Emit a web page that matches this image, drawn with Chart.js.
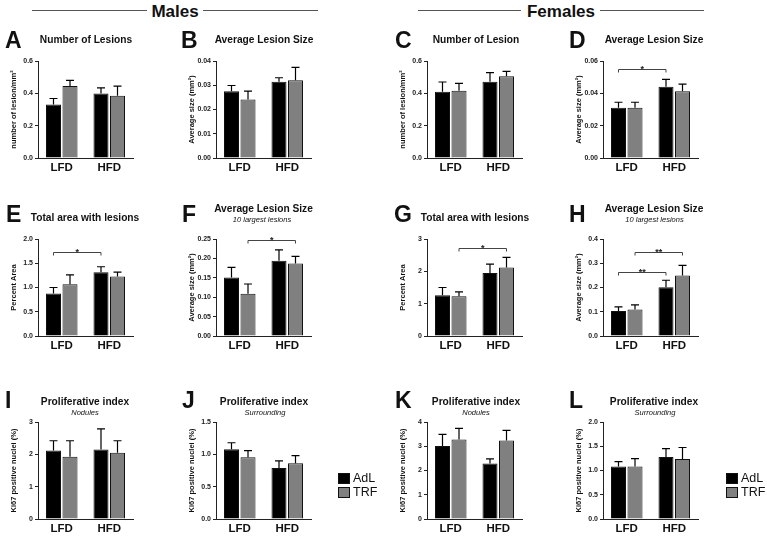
<!DOCTYPE html>
<html>
<head>
<meta charset="utf-8">
<script src="https://cdn.jsdelivr.net/npm/chart.js@4.4.0/dist/chart.umd.min.js"></script>
<style>
  body { margin: 0; background: #fff; }
  #fig { position: relative; width: 767px; height: 537px; overflow: hidden;
         font-family: 'Liberation Sans', Arial, sans-serif; color: #111; }
  #fig canvas { position: absolute; }
  .t { position: absolute; white-space: nowrap; line-height: 1; }
  .c { transform: translateX(-50%); }
  .rule { position: absolute; height: 1px; background: #555; }
  .sw { position: absolute; width: 10px; height: 9px; border: 1px solid #111; }
</style>
</head>
<body>
<div id="fig"></div>
<script>
// shared categories / series
var diets = ['LFD', 'HFD'];
var groups = ['AdL', 'TRF'];

// A - males, number of lesions
var aAdL = [0.331, 0.399], aAdLSem = [0.037, 0.035];
var aTRF = [0.445, 0.385], aTRFSem = [0.035, 0.060];
var aTicks = ['0.0', '0.2', '0.4', '0.6'];

// B - males, average lesion size
var bAdL = [0.0275, 0.0314], bAdLSem = [0.0024, 0.0017];
var bTRF = [0.0241, 0.0321], bTRFSem = [0.0035, 0.0053];
var bTicks = ['0.00', '0.01', '0.02', '0.03', '0.04'];

// C - females, number of lesion
var cAdL = [0.410, 0.472], cAdLSem = [0.060, 0.056];
var cTRF = [0.416, 0.505], cTRFSem = [0.045, 0.031];
var cTicks = ['0.0', '0.2', '0.4', '0.6'];

// D - females, average lesion size
var dAdL = [0.0311, 0.0440], dAdLSem = [0.0034, 0.0046];
var dTRF = [0.0311, 0.0413], dTRFSem = [0.0034, 0.0044];
var dTicks = ['0.00', '0.02', '0.04', '0.06'];

// E - males, total area with lesions
var eAdL = [0.876, 1.317], eAdLSem = [0.124, 0.111];
var eTRF = [1.069, 1.228], eTRFSem = [0.193, 0.089];
var eTicks = ['0.0', '0.5', '1.0', '1.5', '2.0'];

// F - males, 10 largest lesions
var fAdL = [0.151, 0.194], fAdLSem = [0.026, 0.028];
var fTRF = [0.109, 0.187], fTRFSem = [0.025, 0.018];
var fTicks = ['0.00', '0.05', '0.10', '0.15', '0.20', '0.25'];

// G - females, total area with lesions
var gAdL = [1.262, 1.945], gAdLSem = [0.238, 0.279];
var gTRF = [1.231, 2.121], gTRFSem = [0.135, 0.310];
var gTicks = ['0', '1', '2', '3'];

// H - females, 10 largest lesions
var hAdL = [0.103, 0.201], hAdLSem = [0.017, 0.029];
var hTRF = [0.109, 0.250], hTRFSem = [0.019, 0.041];
var hTicks = ['0.0', '0.1', '0.2', '0.3', '0.4'];

// I - males, Ki67 nodules
var iAdL = [2.12, 2.15], iAdLSem = [0.30, 0.64];
var iTRF = [1.924, 2.048], iTRFSem = [0.496, 0.372];
var iTicks = ['0', '1', '2', '3'];

// J - males, Ki67 surrounding
var jAdL = [1.079, 0.789], jAdLSem = [0.100, 0.111];
var jTRF = [0.953, 0.863], jTRFSem = [0.105, 0.116];
var jTicks = ['0.0', '0.5', '1.0', '1.5'];

// K - females, Ki67 nodules
var kAdL = [3.007, 2.29], kAdLSem = [0.483, 0.19];
var kTRF = [3.28, 3.24], kTRFSem = [0.46, 0.415];
var kTicks = ['0', '1', '2', '3', '4'];

// L - females, Ki67 surrounding
var lAdL = [1.08, 1.28], lAdLSem = [0.103, 0.173];
var lTRF = [1.08, 1.239], lTRFSem = [0.166, 0.235];
var lTicks = ['0.0', '0.5', '1.0', '1.5', '2.0'];

// significance brackets: dataset, from category, to category, level, label
var dSig = [[0, 0, 1, 0.0548, '*']];
var eSig = [[0, 0, 1, 1.74, '*']];
var fSig = [[1, 0, 1, 0.247, '*']];
var gSig = [[1, 0, 1, 2.71, '*']];
var hSig = [[0, 0, 1, 0.262, '**'], [1, 0, 1, 0.345, '**']];

var yLesions = 'number of lesion/mm\u00b2';
var ySize = 'Average size (mm\u00b2)';
var yArea = 'Percent Area';
var yKi67 = 'Ki67 positive nuclei (%)';

var fig = document.getElementById('fig');
Chart.defaults.font.family = "'Liberation Sans', Arial, sans-serif";

function addText(txt, x, base, size, weight, style, center) {
  var d = document.createElement('div');
  d.className = 't' + (center ? ' c' : '');
  d.textContent = txt;
  d.style.fontSize = size + 'px';
  d.style.fontWeight = weight;
  d.style.fontStyle = style;
  d.style.left = x + 'px';
  d.style.top = (base - 0.8465 * size) + 'px';
  fig.appendChild(d);
}

// error bars (upper SEM only, like the prism plots)
var errorBars = {
  id: 'errorBars',
  afterDatasetsDraw: function (chart) {
    var ctx = chart.ctx, y = chart.scales.y;
    ctx.save();
    ctx.strokeStyle = '#000';
    ctx.lineWidth = 1.2;
    chart.data.datasets.forEach(function (ds, i) {
      chart.getDatasetMeta(i).data.forEach(function (bar, j) {
        var top = y.getPixelForValue(ds.data[j] + ds.sem[j]);
        ctx.beginPath();
        ctx.moveTo(bar.x, bar.y);
        ctx.lineTo(bar.x, top);
        ctx.moveTo(bar.x - 4, top);
        ctx.lineTo(bar.x + 4, top);
        ctx.stroke();
      });
    });
    ctx.restore();
  }
};

var sigBrackets = {
  id: 'sigBrackets',
  afterDatasetsDraw: function (chart, args, opts) {
    var ctx = chart.ctx;
    (opts.items || []).forEach(function (b) {
      var m = chart.getDatasetMeta(b[0]);
      var x1 = m.data[b[1]].x, x2 = m.data[b[2]].x;
      var yy = Math.round(chart.scales.y.getPixelForValue(b[3])) + 0.5;
      ctx.save();
      ctx.strokeStyle = '#444';
      ctx.lineWidth = 1;
      ctx.beginPath();
      ctx.moveTo(x1, yy + 3);
      ctx.lineTo(x1, yy);
      ctx.lineTo(x2, yy);
      ctx.lineTo(x2, yy + 3);
      ctx.stroke();
      ctx.fillStyle = '#222';
      ctx.font = 'bold 9px "Liberation Sans", Arial, sans-serif';
      ctx.textAlign = 'center';
      ctx.textBaseline = 'alphabetic';
      ctx.fillText(b[4], (x1 + x2) / 2, yy + 2);
      ctx.restore();
    });
  }
};

var colX = [38, 216, 427, 603];
var rowTop = [61, 239, 422];
var plotW = 95, plotH = 97;

var panels = [
  { adl: aAdL, adlSem: aAdLSem, trf: aTRF, trfSem: aTRFSem, ticks: aTicks, max: 0.6, y: yLesions, col: 0, row: 0 },
  { adl: bAdL, adlSem: bAdLSem, trf: bTRF, trfSem: bTRFSem, ticks: bTicks, max: 0.04, y: ySize, col: 1, row: 0 },
  { adl: cAdL, adlSem: cAdLSem, trf: cTRF, trfSem: cTRFSem, ticks: cTicks, max: 0.6, y: yLesions, col: 2, row: 0 },
  { adl: dAdL, adlSem: dAdLSem, trf: dTRF, trfSem: dTRFSem, ticks: dTicks, max: 0.06, y: ySize, col: 3, row: 0, sig: dSig },
  { adl: eAdL, adlSem: eAdLSem, trf: eTRF, trfSem: eTRFSem, ticks: eTicks, max: 2, y: yArea, col: 0, row: 1, sig: eSig },
  { adl: fAdL, adlSem: fAdLSem, trf: fTRF, trfSem: fTRFSem, ticks: fTicks, max: 0.25, y: ySize, col: 1, row: 1, sig: fSig },
  { adl: gAdL, adlSem: gAdLSem, trf: gTRF, trfSem: gTRFSem, ticks: gTicks, max: 3, y: yArea, col: 2, row: 1, sig: gSig },
  { adl: hAdL, adlSem: hAdLSem, trf: hTRF, trfSem: hTRFSem, ticks: hTicks, max: 0.4, y: ySize, col: 3, row: 1, sig: hSig },
  { adl: iAdL, adlSem: iAdLSem, trf: iTRF, trfSem: iTRFSem, ticks: iTicks, max: 3, y: yKi67, col: 0, row: 2 },
  { adl: jAdL, adlSem: jAdLSem, trf: jTRF, trfSem: jTRFSem, ticks: jTicks, max: 1.5, y: yKi67, col: 1, row: 2 },
  { adl: kAdL, adlSem: kAdLSem, trf: kTRF, trfSem: kTRFSem, ticks: kTicks, max: 4, y: yKi67, col: 2, row: 2 },
  { adl: lAdL, adlSem: lAdLSem, trf: lTRF, trfSem: lTRFSem, ticks: lTicks, max: 2, y: yKi67, col: 3, row: 2 }
];

panels.forEach(function (p) {
  var cv = document.createElement('canvas');
  cv.width = 30 + plotW + 3;
  cv.height = 14 + plotH + 18;
  cv.style.left = (colX[p.col] - 30) + 'px';
  cv.style.top = (rowTop[p.row] - 14) + 'px';
  fig.appendChild(cv);

  new Chart(cv.getContext('2d'), {
    type: 'bar',
    data: {
      labels: diets,
      datasets: [
        { label: groups[0], data: p.adl, sem: p.adlSem, backgroundColor: '#000', borderColor: '#111', borderWidth: 1 },
        { label: groups[1], data: p.trf, sem: p.trfSem, backgroundColor: '#808080', borderColor: '#111', borderWidth: 1 }
      ]
    },
    options: {
      responsive: false,
      animation: false,
      barPercentage: 0.91,
      categoryPercentage: 0.695,
      layout: { padding: { top: 14, right: 3, left: 0, bottom: 0 } },
      plugins: {
        legend: { display: false },
        tooltip: { enabled: false },
        sigBrackets: { items: p.sig || [] }
      },
      scales: {
        x: {
          grid: { display: false, drawTicks: false },
          border: { display: true, color: '#222', width: 1 },
          ticks: { font: { size: 11.5, weight: 'bold' }, color: '#111', padding: 3 },
          afterFit: function (s) { s.height = 18; }
        },
        y: {
          min: 0,
          max: p.max,
          ticks: {
            count: p.ticks.length,
            font: { size: 7, weight: 'bold' },
            color: '#222',
            padding: 2,
            callback: function (v, i) { return p.ticks[i]; }
          },
          grid: { drawOnChartArea: false, tickLength: 3, color: '#222' },
          border: { display: true, color: '#222', width: 1 },
          title: { display: true, text: p.y, font: { size: 7.5, weight: 'bold' }, color: '#111', padding: { top: 1, bottom: 0 } },
          afterFit: function (s) { s.width = 30; }
        }
      }
    },
    plugins: [errorBars, sigBrackets]
  });
});

// section headers
addText('Males', 175, 17, 17, 'bold', 'normal', true);
addText('Females', 561, 17, 17, 'bold', 'normal', true);
[[32, 115], [203, 115], [418, 103], [600, 104]].forEach(function (r) {
  var d = document.createElement('div');
  d.className = 'rule';
  d.style.left = r[0] + 'px';
  d.style.top = '10px';
  d.style.width = r[1] + 'px';
  fig.appendChild(d);
});

// panel letters
var letters = [
  ['A', 5, 48], ['B', 181, 48], ['C', 395, 48], ['D', 569, 48],
  ['E', 6, 222], ['F', 182, 222], ['G', 394, 222], ['H', 569, 222],
  ['I', 5, 408], ['J', 182, 408], ['K', 395, 408], ['L', 569, 408]
];
letters.forEach(function (l) { addText(l[0], l[1], l[2], 23, 'bold', 'normal', false); });

// panel titles
addText('Number of Lesions', 86, 44, 10.2, 'bold', 'normal', true);
addText('Average Lesion Size', 264, 44, 10.2, 'bold', 'normal', true);
addText('Number of Lesion', 476, 44, 10.2, 'bold', 'normal', true);
addText('Average Lesion Size', 654, 44, 10.2, 'bold', 'normal', true);
addText('Total area with lesions', 85, 222, 10.2, 'bold', 'normal', true);
addText('Average Lesion Size', 263.5, 213, 10.2, 'bold', 'normal', true);
addText('10 largest lesions', 262, 222.5, 7.5, 'normal', 'italic', true);
addText('Total area with lesions', 475, 222, 10.2, 'bold', 'normal', true);
addText('Average Lesion Size', 654, 213, 10.2, 'bold', 'normal', true);
addText('10 largest lesions', 654.5, 222.5, 7.5, 'normal', 'italic', true);
addText('Proliferative index', 85, 406, 10.2, 'bold', 'normal', true);
addText('Nodules', 85, 415, 7.5, 'normal', 'italic', true);
addText('Proliferative index', 264, 406, 10.2, 'bold', 'normal', true);
addText('Surrounding', 265, 415, 7.5, 'normal', 'italic', true);
addText('Proliferative index', 476, 406, 10.2, 'bold', 'normal', true);
addText('Nodules', 476, 415, 7.5, 'normal', 'italic', true);
addText('Proliferative index', 654, 406, 10.2, 'bold', 'normal', true);
addText('Surrounding', 655, 415, 7.5, 'normal', 'italic', true);

// legends (one per sex block)
[338, 726].forEach(function (lx) {
  [['#000', groups[0], 473], ['#808080', groups[1], 487]].forEach(function (g) {
    var s = document.createElement('div');
    s.className = 'sw';
    s.style.left = lx + 'px';
    s.style.top = g[2] + 'px';
    s.style.background = g[0];
    fig.appendChild(s);
    addText(g[1], lx + 15, g[2] + 9.5, 12.5, 'normal', 'normal', false);
  });
});
</script>
</body>
</html>
